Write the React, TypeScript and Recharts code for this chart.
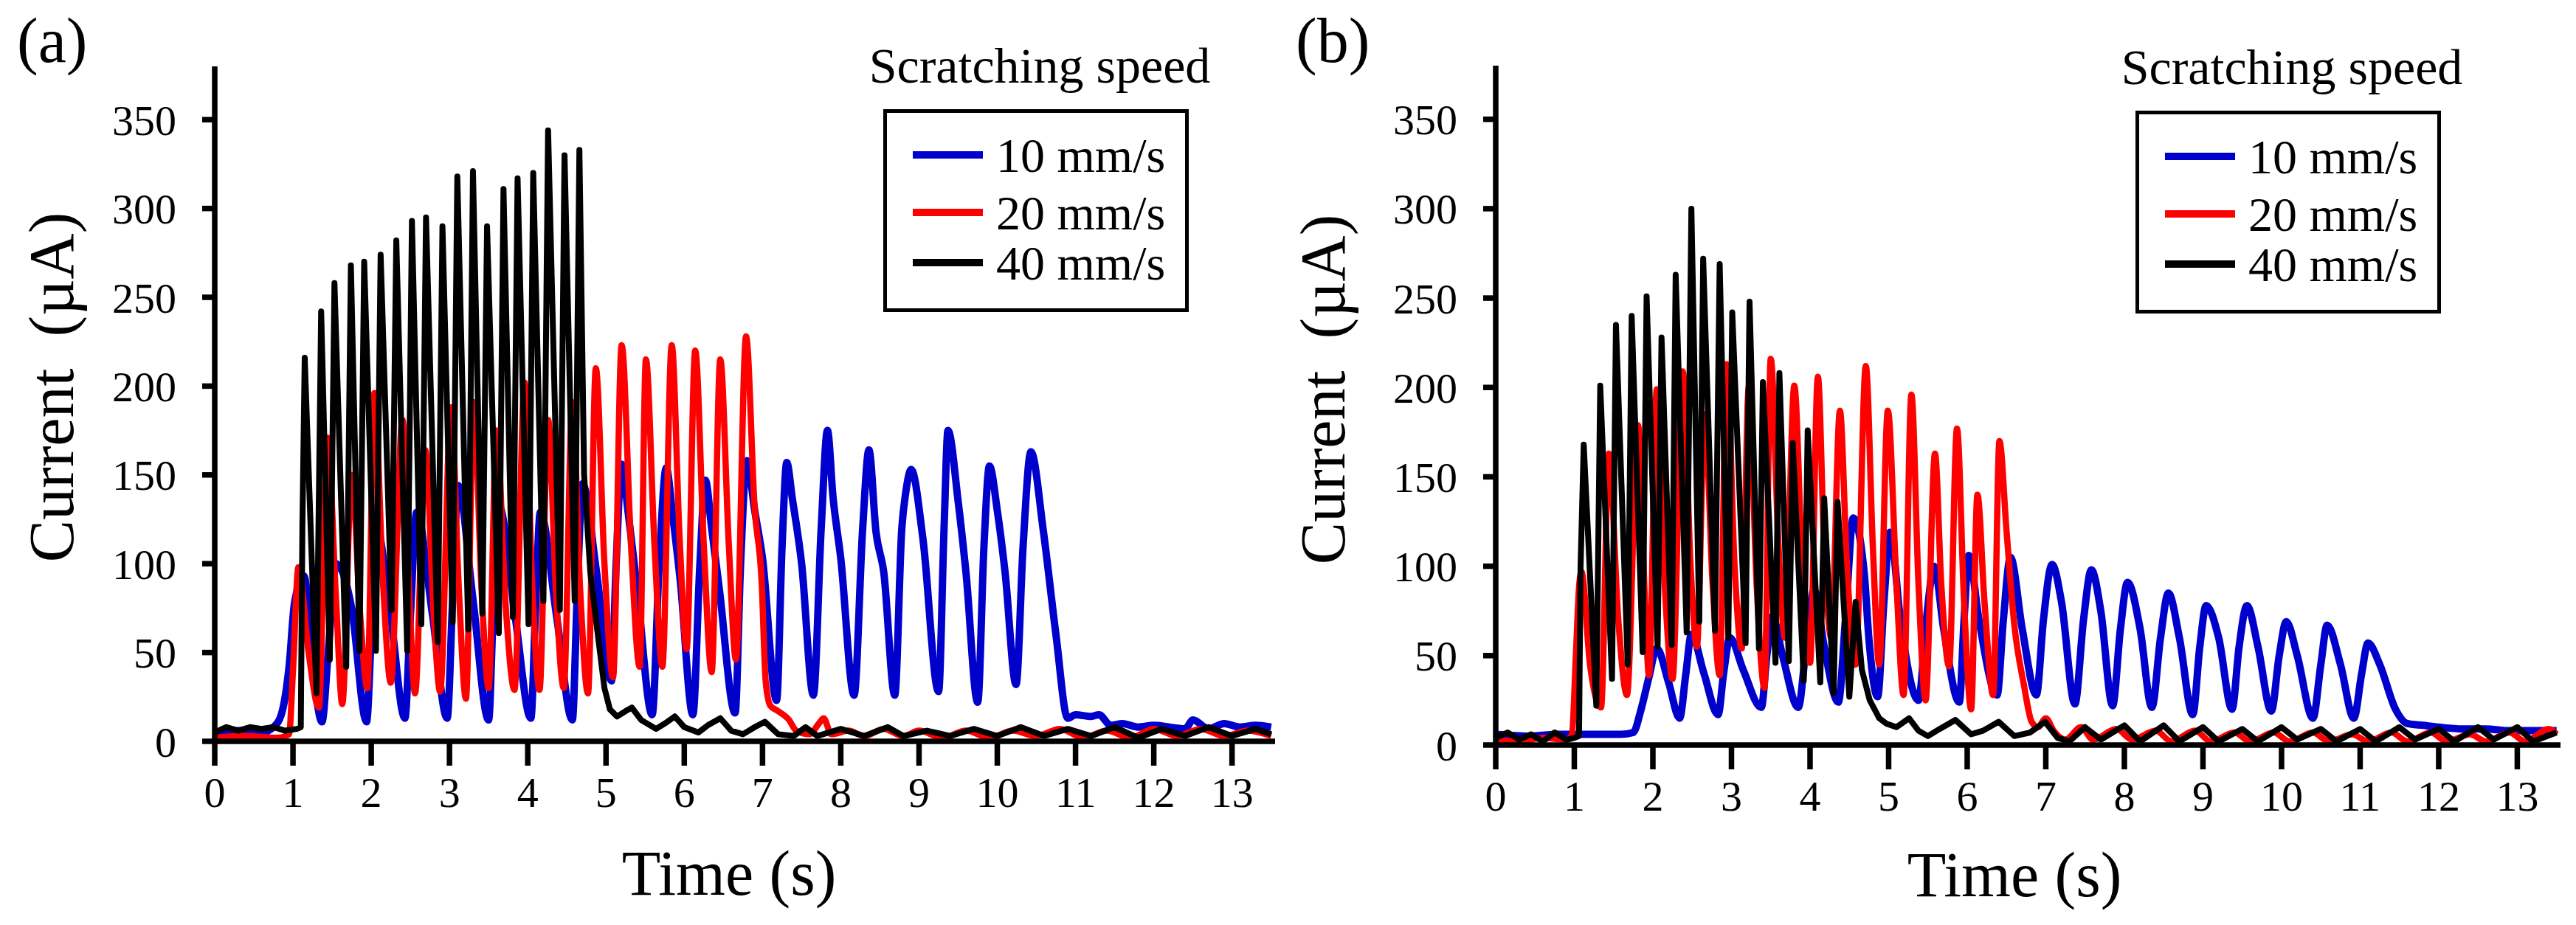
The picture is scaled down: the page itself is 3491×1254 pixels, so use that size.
import React from 'react';
import { LineChart, Line, XAxis, YAxis, Legend, Label } from 'recharts';

const FONT = 'Liberation Serif, Times New Roman, serif';
const H = 1254;

const TIME_TICKS = [0, 1, 2, 3, 4, 5, 6, 7, 8, 9, 10, 11, 12, 13];
const CURRENT_TICKS = [0, 50, 100, 150, 200, 250, 300, 350];
const SPEED_LABELS = ['10 mm/s', '20 mm/s', '40 mm/s'];
const SPEED_COLORS = ['#0000CD', '#FF0000', '#000000'];
const LEGEND_TITLE = 'Scratching speed';
const X_TITLE = 'Time (s)';
const Y_TITLE = 'Current  (\u00b5A)';
const PANEL_TAGS = ['(a)', '(b)'];

type Pt = [number, number];

// Panel (a) — [time s, current µA]
const A_10: Pt[] = [[0,5],[0.3,6],[0.6,5],[0.75,8],[0.85,15],[0.95,42],[1.02,78],[1.14,93],[1.27,35],[1.37,11],[1.45,50],[1.55,100],[1.75,75],[1.94,11],[2.0,60],[2.06,122],[2.25,70],[2.43,13],[2.5,70],[2.58,129],[2.78,72],[2.97,13],[3.04,80],[3.11,144],[3.3,80],[3.5,12],[3.56,75],[3.63,133],[3.84,70],[4.04,13],[4.1,75],[4.16,129],[4.37,70],[4.57,12],[4.63,80],[4.70,145],[4.88,95],[5.07,34],[5.13,100],[5.20,156],[5.28,130],[5.4,85],[5.59,15],[5.68,100],[5.77,154],[5.85,128],[5.95,90],[6.11,15],[6.2,100],[6.27,147],[6.35,120],[6.45,85],[6.65,16],[6.72,100],[6.80,158],[6.9,130],[7.0,103],[7.18,23],[7.25,110],[7.31,157],[7.38,137],[7.5,100],[7.65,26],[7.75,120],[7.83,175],[7.9,138],[8.0,103],[8.17,26],[8.28,120],[8.36,164],[8.45,118],[8.55,95],[8.69,26],[8.78,120],[8.83,140],[8.9,153],[9.05,114],[9.25,28],[9.32,120],[9.37,175],[9.5,135],[9.6,95],[9.75,22],[9.83,110],[9.9,155],[10.0,130],[10.1,95],[10.24,32],[10.33,110],[10.43,163],[10.59,118],[10.75,60],[10.9,13],[11.0,15],[11.2,14],[11.3,15],[11.45,9],[11.6,10],[11.8,8],[12.0,9],[12.2,8],[12.4,7],[12.5,12],[12.7,7],[12.9,10],[13.1,8],[13.3,9],[13.5,8]];
const A_20: Pt[] = [[0,2],[0.4,3],[0.8,2],[0.95,4],[1.0,40],[1.07,98],[1.2,50],[1.33,19],[1.44,171],[1.55,80],[1.63,21],[1.75,150],[1.86,70],[1.95,30],[2.04,196],[2.15,90],[2.25,33],[2.40,181],[2.48,90],[2.56,27],[2.69,164],[2.8,70],[2.88,28],[3.02,188],[3.12,85],[3.21,24],[3.31,191],[3.41,85],[3.50,30],[3.60,175],[3.72,75],[3.83,29],[3.96,202],[4.06,85],[4.15,29],[4.26,181],[4.36,85],[4.46,30],[4.57,191],[4.67,85],[4.77,27],[4.87,210],[4.98,100],[5.09,36],[5.20,223],[5.32,110],[5.43,42],[5.51,215],[5.62,110],[5.72,42],[5.84,223],[5.94,115],[6.03,52],[6.14,220],[6.25,110],[6.35,39],[6.46,215],[6.57,110],[6.66,46],[6.79,228],[6.9,131],[6.99,89],[7.04,34],[7.1,20],[7.2,17],[7.34,12],[7.43,6],[7.6,4],[7.72,10],[7.78,13],[7.88,4],[8.1,6],[8.3,3],[8.55,7],[8.8,3],[9.0,6],[9.3,2],[9.6,6],[9.9,2],[10.2,6],[10.5,3],[10.8,7],[11.1,2],[11.4,6],[11.7,2],[12.0,7],[12.3,3],[12.6,7],[12.9,3],[13.2,6],[13.5,3]];
const A_40: Pt[] = [[0,5],[0.15,8],[0.3,6],[0.45,8],[0.6,7],[0.75,8],[0.9,6],[1.05,7],[1.1,8],[1.12,120],[1.15,216],[1.30,27],[1.36,242],[1.47,46],[1.53,258],[1.68,42],[1.74,268],[1.85,51],[1.91,270],[2.06,51],[2.12,274],[2.26,74],[2.32,282],[2.46,51],[2.52,293],[2.64,66],[2.70,295],[2.85,56],[2.91,290],[3.04,67],[3.10,318],[3.24,63],[3.30,321],[3.42,72],[3.48,290],[3.63,61],[3.69,311],[3.81,70],[3.87,317],[4.01,66],[4.07,320],[4.20,79],[4.26,344],[4.41,74],[4.47,330],[4.60,79],[4.66,333],[4.72,150],[4.8,95],[4.89,62],[4.98,30],[5.05,18],[5.14,14],[5.25,17],[5.33,19],[5.45,12],[5.64,7],[5.75,10],[5.88,14],[6.0,8],[6.18,5],[6.3,9],[6.46,13],[6.6,6],[6.75,4],[6.9,8],[7.03,11],[7.2,4],[7.4,3],[7.55,8],[7.7,3],[8.0,7],[8.3,3],[8.6,8],[8.8,3],[9.1,6],[9.4,3],[9.7,7],[10.0,3],[10.3,8],[10.6,3],[10.9,7],[11.2,3],[11.5,8],[11.8,2],[12.1,7],[12.4,3],[12.7,8],[13.0,3],[13.3,7],[13.5,4]];

// Panel (b)
const B_10: Pt[] = [[0,6],[0.4,5],[0.8,6],[1.2,6],[1.6,6],[1.75,7],[1.85,20],[1.95,38],[2.05,54],[2.2,35],[2.34,15],[2.42,40],[2.49,62],[2.65,40],[2.83,17],[2.9,40],[2.98,60],[3.15,42],[3.38,21],[3.45,50],[3.52,72],[3.65,50],[3.85,21],[3.95,55],[4.05,87],[4.18,55],[4.36,24],[4.45,70],[4.55,127],[4.69,96],[4.75,59],[4.86,27],[4.94,80],[5.02,119],[5.15,70],[5.38,25],[5.48,70],[5.58,100],[5.7,65],[5.90,24],[5.96,70],[6.02,106],[6.15,70],[6.38,28],[6.46,70],[6.55,105],[6.7,65],[6.88,28],[6.97,70],[7.08,101],[7.2,80],[7.37,23],[7.48,70],[7.58,98],[7.7,75],[7.85,22],[7.95,65],[8.04,91],[8.2,65],[8.35,21],[8.46,60],[8.56,85],[8.7,60],[8.87,17],[8.96,55],[9.04,78],[9.2,60],[9.37,20],[9.46,55],[9.56,78],[9.7,55],[9.87,19],[9.97,50],[10.06,69],[10.2,50],[10.4,15],[10.5,45],[10.58,67],[10.75,45],[10.92,15],[11.02,40],[11.1,57],[11.25,45],[11.45,20],[11.6,12],[11.8,11],[12.0,10],[12.3,9],[12.6,9],[12.9,8],[13.2,8],[13.5,8]];
const B_20: Pt[] = [[0,3],[0.3,2],[0.6,4],[0.9,3],[0.97,6],[1.02,50],[1.06,88],[1.09,97],[1.2,45],[1.34,21],[1.44,163],[1.56,70],[1.67,28],[1.81,179],[1.9,80],[1.95,39],[2.05,199],[2.15,90],[2.25,37],[2.38,209],[2.48,100],[2.56,55],[2.66,185],[2.76,90],[2.85,39],[2.94,213],[3.04,100],[3.13,54],[3.22,200],[3.32,90],[3.42,32],[3.50,216],[3.6,110],[3.68,60],[3.80,201],[3.9,100],[4.0,46],[4.10,206],[4.18,110],[4.27,60],[4.38,187],[4.47,100],[4.58,45],[4.71,212],[4.8,110],[4.88,45],[4.99,187],[5.1,90],[5.19,28],[5.29,196],[5.38,90],[5.47,25],[5.59,163],[5.67,90],[5.77,44],[5.87,177],[5.96,80],[6.05,20],[6.13,140],[6.22,80],[6.33,28],[6.41,170],[6.5,120],[6.6,67],[6.72,34],[6.82,13],[6.9,10],[7.0,15],[7.1,8],[7.25,3],[7.45,10],[7.6,3],[7.9,9],[8.1,3],[8.4,8],[8.6,2],[8.9,8],[9.1,2],[9.4,7],[9.6,2],[9.9,7],[10.1,2],[10.4,7],[10.6,2],[10.9,6],[11.1,2],[11.4,7],[11.6,2],[11.9,7],[12.1,2],[12.4,6],[12.6,2],[12.9,7],[13.1,2],[13.4,9],[13.5,6]];
const B_40: Pt[] = [[0,4],[0.15,7],[0.3,3],[0.45,6],[0.6,2],[0.75,7],[0.9,3],[1.0,4],[1.06,5],[1.08,100],[1.12,168],[1.28,22],[1.33,201],[1.48,37],[1.53,235],[1.68,45],[1.73,240],[1.87,52],[1.92,251],[2.06,55],[2.11,228],[2.24,56],[2.29,263],[2.43,63],[2.49,300],[2.59,69],[2.64,272],[2.79,64],[2.85,269],[2.96,60],[3.01,242],[3.18,57],[3.23,248],[3.35,54],[3.40,203],[3.56,46],[3.61,208],[3.73,47],[3.78,169],[3.92,36],[3.97,176],[4.13,35],[4.18,138],[4.30,29],[4.35,136],[4.5,27],[4.58,80],[4.66,42],[4.76,25],[4.88,15],[4.97,12],[5.1,10],[5.26,15],[5.38,8],[5.5,5],[5.65,9],[5.85,14],[6.05,6],[6.2,8],[6.4,13],[6.6,5],[6.8,7],[6.99,13],[7.15,4],[7.3,2],[7.5,10],[7.7,3],[8.0,11],[8.2,2],[8.5,11],[8.7,2],[9.0,10],[9.2,2],[9.5,9],[9.7,2],[10.0,10],[10.2,3],[10.5,9],[10.7,2],[11.0,9],[11.2,2],[11.5,10],[11.7,3],[12.0,9],[12.2,2],[12.5,10],[12.7,3],[13.0,10],[13.2,2],[13.5,7]];

const toRows = (pts: Pt[]) => pts.map(([t, v]) => ({ t, v }));

const PANELS = [
  {
    tag: PANEL_TAGS[0], series: [A_10, A_20, A_40],
    left: 0, width: 1745, axisX: 291, plotTop: 90, plotBottom: 1005, plotRight: 1728,
    tagX: 23, tagY: 84, yTitleX: 99, yTitleY: 525, xTitleX: 988, xTitleY: 1213,
    boxLeft: 1197, boxTop: 148,
  },
  {
    tag: PANEL_TAGS[1], series: [B_10, B_20, B_40],
    left: 1745, width: 1746, axisX: 282, plotTop: 89, plotBottom: 1010, plotRight: 1725,
    tagX: 11, tagY: 84, yTitleX: 77, yTitleY: 528, xTitleX: 985, xTitleY: 1215,
    boxLeft: 1149, boxTop: 150,
  },
];

const ROW_Y = [62, 140, 208];
const STROKE_W = [10, 8.5, 8];
const CURVE = ['monotone', 'monotone', 'linear'] as const;

function Annotations({ cfg }: { cfg: any }) {
  const bx = cfg.boxLeft;
  const by = cfg.boxTop;
  return (
    <svg width={cfg.width} height={H} style={{ position: 'absolute', left: 0, top: 0, pointerEvents: 'none' }}>
      <text x={cfg.tagX} y={cfg.tagY} fontFamily={FONT} fontSize={86} fill="#000">{cfg.tag}</text>
      <text x={bx + 212} y={by - 36} textAnchor="middle" fontFamily={FONT} fontSize={68} fill="#000">{LEGEND_TITLE}</text>
      <rect x={bx + 2.5} y={by + 2.5} width={409} height={270} fill="none" stroke="#000" strokeWidth={5} />
      {SPEED_LABELS.map((lab, i) => (
        <g key={lab}>
          <line x1={bx + 40} x2={bx + 135} y1={by + ROW_Y[i]} y2={by + ROW_Y[i]} stroke={SPEED_COLORS[i]} strokeWidth={10} />
          <text x={bx + 153} y={by + ROW_Y[i] + 23} fontFamily={FONT} fontSize={66} fill="#000">{lab}</text>
        </g>
      ))}
    </svg>
  );
}

function Panel({ cfg }: { cfg: any }) {
  return (
    <div style={{ position: 'absolute', left: cfg.left, top: 0, width: cfg.width, height: H }}>
      <LineChart
        width={cfg.width}
        height={H}
        margin={{ top: cfg.plotTop, right: cfg.width - cfg.plotRight, bottom: 0, left: 0 }}
        style={{ fontFamily: FONT }}
      >
        <XAxis
          type="number"
          dataKey="t"
          domain={[0, 13.55]}
          ticks={TIME_TICKS}
          interval={0}
          allowDataOverflow
          height={H - cfg.plotBottom}
          tickSize={33}
          tickMargin={15}
          axisLine={{ stroke: '#000', strokeWidth: 7.5 }}
          tickLine={{ stroke: '#000', strokeWidth: 7.5 }}
          tick={{ fill: '#000', fontSize: 58, fontFamily: FONT }}
        >
          <Label
            content={() => (
              <text x={cfg.xTitleX} y={cfg.xTitleY} textAnchor="middle" fontFamily={FONT} fontSize={86} fill="#000">
                {X_TITLE}
              </text>
            )}
          />
        </XAxis>
        <YAxis
          type="number"
          domain={[0, 380]}
          ticks={CURRENT_TICKS}
          interval={0}
          allowDataOverflow
          width={cfg.axisX}
          tickSize={17}
          tickMargin={35}
          axisLine={{ stroke: '#000', strokeWidth: 7.5 }}
          tickLine={{ stroke: '#000', strokeWidth: 7.5 }}
          tick={{ fill: '#000', fontSize: 58, fontFamily: FONT }}
        >
          <Label
            content={() => (
              <text
                x={cfg.yTitleX}
                y={cfg.yTitleY}
                transform={`rotate(-90, ${cfg.yTitleX}, ${cfg.yTitleY})`}
                textAnchor="middle"
                fontFamily={FONT}
                fontSize={86}
                fill="#000"
                style={{ whiteSpace: 'pre' }}
              >
                {Y_TITLE}
              </text>
            )}
          />
        </YAxis>
        {cfg.series.map((s: Pt[], i: number) => (
          <Line
            key={SPEED_LABELS[i]}
            name={SPEED_LABELS[i]}
            data={toRows(s)}
            dataKey="v"
            type={CURVE[i]}
            stroke={SPEED_COLORS[i]}
            strokeWidth={STROKE_W[i]}
            strokeLinejoin="round"
            dot={false}
            activeDot={false}
            isAnimationActive={false}
          />
        ))}
        <Legend
          layout="horizontal"
          verticalAlign="middle"
          align="center"
          wrapperStyle={{ left: 0, top: 0, width: cfg.width, height: H, pointerEvents: 'none' }}
          content={() => <Annotations cfg={cfg} />}
        />
      </LineChart>
    </div>
  );
}

export default function App() {
  return (
    <div style={{ position: 'absolute', left: 0, top: 0, width: 3491, height: H, background: '#fff' }}>
      {PANELS.map((cfg) => (
        <Panel key={cfg.tag} cfg={cfg} />
      ))}
    </div>
  );
}
